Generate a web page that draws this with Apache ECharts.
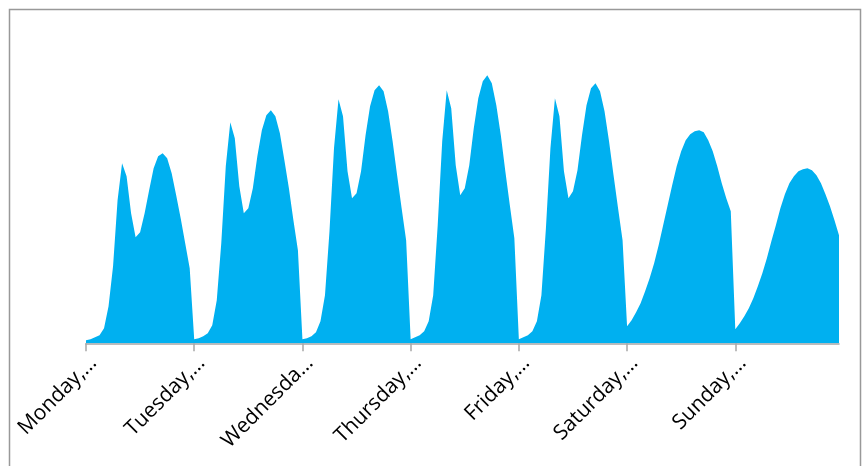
<!DOCTYPE html>
<html>
<head>
<meta charset="utf-8">
<script src="https://cdn.jsdelivr.net/npm/echarts@6/dist/echarts.min.js"></script>
<style>
  html, body { margin: 0; padding: 0; background: #fff; }
  #chart { width: 865px; height: 466px; }
</style>
</head>
<body>
<div id="chart"></div>
<script>
// Day labels shown under each day's first hour
const dayLabels = ["Monday,…", "Tuesday,…", "Wednesda…", "Thursday,…", "Friday,…", "Saturday,…", "Sunday,…"];

// Hourly values, 24 per day
const monday    = [0.3,0.4,0.6,0.8,1.5,3.7,7.7,14.3,18.0,16.7,13.0,10.6,11.1,13.0,15.3,17.5,18.7,19.0,18.5,17.0,14.8,12.5,10.0,7.5];
const tuesday   = [0.4,0.5,0.7,1.0,1.8,4.3,10.0,17.7,22.1,20.5,15.7,13.0,13.5,15.5,18.7,21.3,22.8,23.3,22.7,21.0,18.3,15.5,12.3,9.3];
const wednesday = [0.4,0.5,0.7,1.1,2.2,4.8,11.2,19.5,24.4,22.7,17.2,14.5,15.0,17.2,20.8,23.7,25.3,25.8,25.2,23.2,20.2,16.8,13.5,10.3];
const thursday  = [0.4,0.6,0.8,1.2,2.2,4.8,11.8,20.2,25.3,23.5,17.8,14.8,15.5,17.8,21.5,24.5,26.2,26.8,26.0,23.8,20.8,17.2,13.8,10.5];
const friday    = [0.4,0.6,0.8,1.2,2.2,4.8,11.5,19.5,24.5,22.7,17.2,14.5,15.2,17.3,20.8,23.8,25.5,26.0,25.2,23.2,20.2,16.8,13.5,10.3];
const saturday  = [1.7,2.3,3.1,4.0,5.2,6.5,8.0,9.8,11.8,13.8,15.8,17.7,19.2,20.3,20.9,21.2,21.3,21.1,20.3,19.2,17.7,16.0,14.5,13.2];
const sunday    = [1.4,2.0,2.7,3.5,4.5,5.7,7.0,8.5,10.2,11.8,13.5,14.9,16.0,16.7,17.2,17.4,17.5,17.3,16.8,16.0,14.9,13.7,12.3,10.8];

const days = [monday, tuesday, wednesday, thursday, friday, saturday, sunday];
const hoursPerDay = 24;

// One category per hour of the week
const categories = [];
const values = [];
days.forEach((day, d) => {
  day.forEach((v, h) => {
    categories.push(d + "-" + h);
    values.push(v);
  });
});

const chart = echarts.init(document.getElementById('chart'));
chart.setOption({
  animation: false,
  backgroundColor: '#ffffff',
  grid: { left: 86, right: 26, top: 23.3, bottom: 122.7, containLabel: false },
  xAxis: {
    type: 'category',
    data: categories,
    boundaryGap: false,
    axisLine: { show: true, lineStyle: { color: '#a6a6a6', width: 1.5 } },
    axisTick: {
      show: true,
      length: 8,
      interval: (idx) => idx % hoursPerDay === 0,
      lineStyle: { color: '#a6a6a6', width: 1.5 }
    },
    axisLabel: {
      interval: (idx) => idx % hoursPerDay === 0,
      formatter: (val, idx) => dayLabels[Math.floor(idx / hoursPerDay)],
      rotate: 45,
      margin: 9,
      verticalAlign: 'top',
      color: '#000000',
      fontFamily: '"Open Sans", sans-serif',
      fontSize: 21
    },
    splitLine: { show: false }
  },
  yAxis: {
    type: 'value',
    min: 0,
    max: 32,
    show: false
  },
  series: [{
    type: 'line',
    data: values,
    symbol: 'none',
    smooth: false,
    lineStyle: { width: 0 },
    areaStyle: { color: '#00B0F0', opacity: 1 }
  }],
  graphic: [{
    type: 'rect',
    shape: { x: 9.5, y: 9.5, width: 851, height: 470 },
    style: { fill: 'none', stroke: '#999999', lineWidth: 1.5 },
    silent: true
  }]
});
</script>
</body>
</html>
